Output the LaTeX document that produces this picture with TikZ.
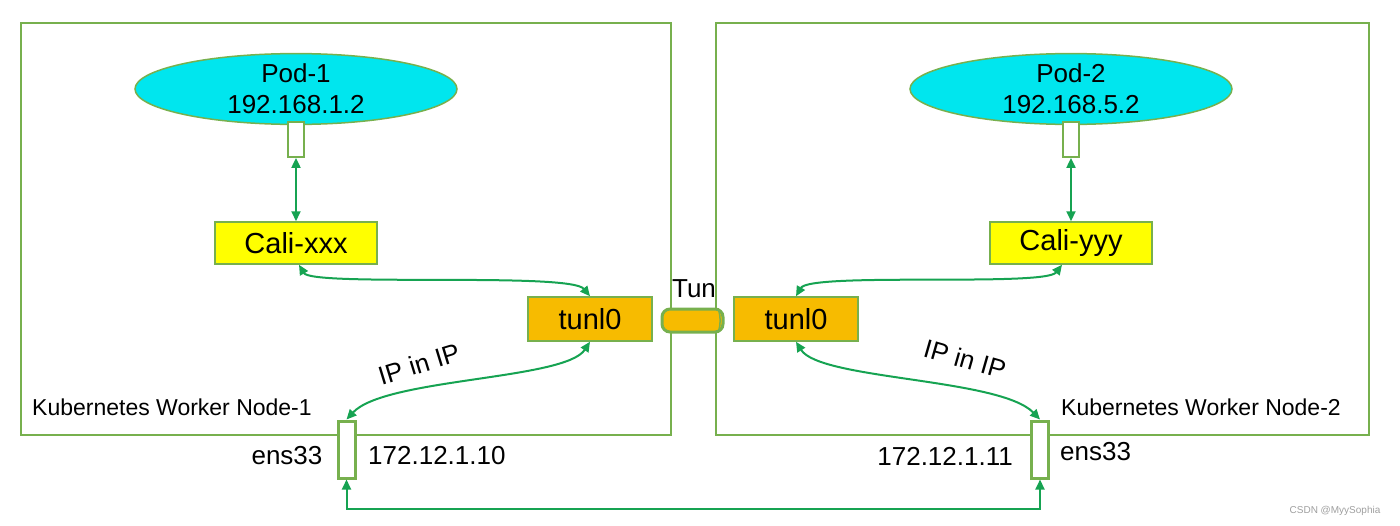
\documentclass[tikz,border=0pt]{standalone}
\usepackage{fontspec}
\setmainfont{Liberation Sans}
\usetikzlibrary{arrows.meta,shapes.geometric}
\definecolor{boxg}{RGB}{119,176,78}
\definecolor{arrg}{RGB}{22,163,82}
\definecolor{podc}{RGB}{0,230,238}
\definecolor{calic}{RGB}{255,255,0}
\definecolor{tunc}{RGB}{247,187,0}
\begin{document}
\begin{tikzpicture}[x=1pt,y=-1pt,
  hostbox/.style={draw=boxg,line width=2pt,rectangle,anchor=north west,inner sep=0pt},
  pod/.style={ellipse,draw=boxg,line width=1.5pt,fill=podc,minimum width=322pt,minimum height=64pt,inner sep=0pt,align=center,font=\fontsize{26}{31}\selectfont},
  port/.style={rectangle,draw=boxg,line width=1.8pt,fill=white,minimum width=16pt,minimum height=35pt,inner sep=0pt},
  cali/.style={rectangle,draw=boxg,line width=1.5pt,fill=calic,minimum width=162pt,minimum height=42pt,inner sep=0pt,font=\fontsize{29}{34}\selectfont},
  tunl/.style={rectangle,draw=boxg,line width=1.5pt,fill=tunc,minimum width=124pt,minimum height=44pt,inner sep=0pt,font=\fontsize{29}{34}\selectfont},
  ens/.style={rectangle,draw=boxg,line width=3pt,fill=white,minimum width=17pt,minimum height=57pt,inner sep=0pt},
  pipe/.style={rectangle,rounded corners=8pt,draw=boxg,line width=3pt,fill=tunc,minimum height=23pt,minimum width=61pt,inner sep=0pt},
  link/.style={draw=arrg,line width=2pt,{Triangle[length=10pt,width=9pt]}-{Triangle[length=10pt,width=9pt]}},
  lbl/.style={font=\fontsize{26}{31}\selectfont,inner sep=0pt},
  klbl/.style={font=\fontsize{23}{28}\selectfont,inner sep=0pt,anchor=west},
]
\useasboundingbox (0,0) rectangle (1400,525);
% host boxes
\node[hostbox,minimum width=650pt,minimum height=412pt] (host1) at (20,22) {};
\node[hostbox,minimum width=653pt,minimum height=412pt] (host2) at (715,22) {};
% pods
\node[pod] (pod1) at (296,89) {Pod-1\\192.168.1.2};
\node[pod] (pod2) at (1071,89) {Pod-2\\192.168.5.2};
\node[port] (port1) at (296,139.5) {};
\node[port] (port2) at (1071,139.5) {};
% cali
\node[cali] (cali1) at (296,243) {Cali-xxx};
\node[cali] (cali2) at (1071,243) {Cali-yyy};
% tunl
\node[tunl] (tun1) at (590,319) {tunl0};
\node[tunl] (tun2) at (796,319) {tunl0};
\node[pipe] (pipe) at (692.5,320.5) {};
\draw[boxg,line width=1.5pt] ([xshift=-6pt,yshift=-2pt]pipe.north east) to[bend left=15] ([xshift=-6pt,yshift=2pt]pipe.south east);
\node[lbl] (tunlbl) at (694,289) {Tun};
% ens
\node[ens] (ens1) at (346.5,449.5) {};
\node[ens] (ens2) at (1040,449.5) {};
% labels
\node[klbl] (k1) at (32,407) {Kubernetes Worker Node-1};
\node[klbl] (k2) at (1061,407) {Kubernetes Worker Node-2};
\node[lbl] (e1) at (287,456) {ens33};
\node[lbl,anchor=west] (ip1) at (368,456) {172.12.1.10};
\node[lbl,anchor=east] (ip2) at (1013,456) {172.12.1.11};
\node[lbl,anchor=west] (e2) at (1060,452) {ens33};
\node[lbl,rotate=17] (ipip1) at (419,364) {IP in IP};
\node[lbl,rotate=-16] (ipip2) at (965,359) {IP in IP};
\node[text=gray!75,font=\fontsize{10}{12}\selectfont,inner sep=0pt] (wm) at (1335,511) {CSDN @MyySophia};
% connectors
\draw[link] (port1.south) -- (cali1.north);
\draw[link] (port2.south) -- (cali2.north);
\draw[link] ([xshift=3pt]cali1.south) .. controls (312,287) and (570,272) .. (tun1.north);
\draw[link] ([xshift=-9pt]cali2.south) .. controls (1045,287) and (810,272) .. (tun2.north);
\draw[link] (tun1.south) .. controls (565,380) and (385,378) .. (ens1.north);
\draw[link] (tun2.south) .. controls (820,380) and (1000,378) .. (ens2.north);
\draw[link] (ens1.south) -- ++(0,29) coordinate (b1) -| (ens2.south);
\end{tikzpicture}
\end{document}
